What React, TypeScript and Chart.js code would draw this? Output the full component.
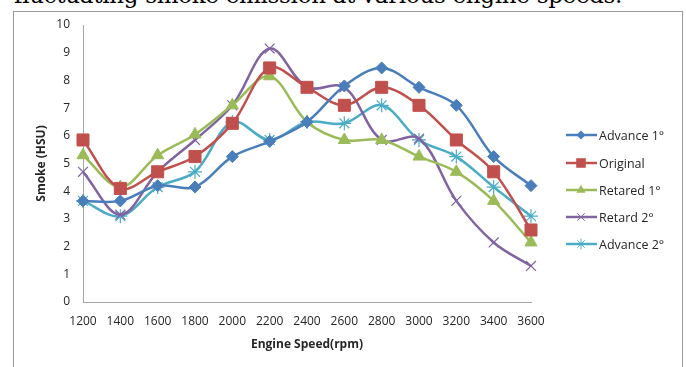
import React, { useEffect, useRef } from "react";
import { Chart, registerables } from "chart.js";

Chart.register(...registerables);

const speeds = ["1200", "1400", "1600", "1800", "2000", "2200", "2400", "2600", "2800", "3000", "3200", "3400", "3600"];
const advance1 = [3.65, 3.65, 4.2, 4.15, 5.25, 5.8, 6.5, 7.8, 8.45, 7.75, 7.1, 5.25, 4.2];
const original = [5.85, 4.1, 4.7, 5.25, 6.45, 8.45, 7.75, 7.1, 7.75, 7.1, 5.85, 4.7, 2.6];
const retared1 = [5.3, 4.15, 5.3, 6.05, 7.1, 8.15, 6.5, 5.85, 5.85, 5.25, 4.7, 3.65, 2.15];
const retard2 = [4.7, 3.15, 4.7, 5.85, 7.1, 9.15, 7.75, 7.75, 5.85, 5.9, 3.65, 2.15, 1.3];
const advance2 = [3.65, 3.1, 4.15, 4.7, 6.5, 5.85, 6.5, 6.45, 7.1, 5.85, 5.25, 4.15, 3.1];
const yTicks = [0, 1, 2, 3, 4, 5, 6, 7, 8, 9, 10];

const seriesDefs = [
  { label: "Advance 1°", data: advance1, color: "#4a7ebb", style: "rectRot", radius: 6, fill: true },
  { label: "Original", data: original, color: "#c0504d", style: "rect", radius: 8.5, fill: true },
  { label: "Retared 1°", data: retared1, color: "#9bbb59", style: "triangle", radius: 7, fill: true },
  { label: "Retard 2°", data: retard2, color: "#8064a2", style: "crossRot", radius: 7, fill: false },
  { label: "Advance 2°", data: advance2, color: "#4bacc6", style: "star", radius: 7, fill: false },
];

const FONT = "'Open Sans', 'Liberation Sans', sans-serif";

function drawMarker(ctx: CanvasRenderingContext2D, style: string, r: number, x: number, y: number, color: string) {
  ctx.save();
  ctx.fillStyle = color;
  ctx.strokeStyle = color;
  ctx.lineWidth = 1;
  ctx.beginPath();
  if (style === "rectRot") {
    ctx.moveTo(x, y - r); ctx.lineTo(x + r, y); ctx.lineTo(x, y + r); ctx.lineTo(x - r, y); ctx.closePath();
    ctx.fill();
  } else if (style === "rect") {
    const s = r * 0.75;
    ctx.rect(x - s, y - s, 2 * s, 2 * s);
    ctx.fill();
  } else if (style === "triangle") {
    ctx.moveTo(x, y - r); ctx.lineTo(x + r * 0.87, y + r * 0.5); ctx.lineTo(x - r * 0.87, y + r * 0.5); ctx.closePath();
    ctx.fill();
  } else if (style === "crossRot") {
    const s = r * 0.7;
    ctx.moveTo(x - s, y - s); ctx.lineTo(x + s, y + s); ctx.moveTo(x + s, y - s); ctx.lineTo(x - s, y + s);
    ctx.stroke();
  } else {
    const s = r * 0.7;
    ctx.moveTo(x - s, y - s); ctx.lineTo(x + s, y + s); ctx.moveTo(x + s, y - s); ctx.lineTo(x - s, y + s);
    ctx.moveTo(x, y - r); ctx.lineTo(x, y + r);
    ctx.stroke();
  }
  ctx.restore();
}

const legendPlugin = {
  id: "customLegend",
  afterDraw(chart: any) {
    const ctx = chart.ctx;
    const rows = [135, 163, 190, 217, 244];
    ctx.save();
    seriesDefs.forEach((s, i) => {
      const y = rows[i];
      ctx.strokeStyle = s.color;
      ctx.lineWidth = 2.5;
      ctx.beginPath();
      ctx.moveTo(566, y);
      ctx.lineTo(597, y);
      ctx.stroke();
      drawMarker(ctx, s.style, s.radius * 0.75, 581, y, s.color);
      ctx.fillStyle = "#262626";
      ctx.font = "12.5px " + FONT;
      ctx.textBaseline = "middle";
      ctx.textAlign = "left";
      ctx.fillText(s.label, 599, y + 1);
    });
    ctx.restore();
  },
};

export default function App() {
  const ref = useRef<HTMLCanvasElement>(null);
  useEffect(() => {
    if (!ref.current) return;
    const chart = new Chart(ref.current, {
      type: "line",
      data: {
        labels: speeds,
        datasets: seriesDefs.map((s) => ({
          label: s.label,
          data: s.data,
          borderColor: s.color,
          backgroundColor: s.color,
          borderWidth: 2.5,
          tension: 0.35,
          pointStyle: s.style as any,
          pointRadius: s.radius,
          pointBackgroundColor: s.color,
          pointBorderColor: s.color,
          pointBorderWidth: s.fill ? 1 : 1.2,
        })),
      },
      options: {
        animation: false,
        responsive: false,
        maintainAspectRatio: false,
        layout: { padding: { left: 30, right: 155, top: 25, bottom: 11 } },
        plugins: { legend: { display: false }, tooltip: { enabled: false } },
        scales: {
          x: {
            offset: false,
            grid: { display: false, drawTicks: false },
            border: { display: true, color: "#a6a6a6", width: 1 },
            ticks: { color: "#262626", font: { family: FONT, size: 12 }, padding: 12, maxRotation: 0, autoSkip: false },
            title: { display: true, text: "Engine Speed(rpm)", color: "#262626", font: { family: FONT, size: 12, weight: "bold" }, padding: { top: 2 } },
            afterFit: (scale: any) => { scale.height = 54; },
          },
          y: {
            min: 0,
            max: 10,
            afterBuildTicks: (scale: any) => { scale.ticks = yTicks.map((v) => ({ value: v })); },
            grid: { display: false, drawTicks: false },
            border: { display: true, color: "#a6a6a6", width: 1 },
            ticks: { color: "#262626", font: { family: FONT, size: 12 }, padding: 13 },
            title: { display: true, text: "Smoke (HSU)", color: "#262626", font: { family: FONT, size: 12, weight: "bold" }, padding: { bottom: 6 } },
            afterFit: (scale: any) => { scale.width = 53; },
          },
        },
      },
      plugins: [legendPlugin],
    });
    return () => chart.destroy();
  }, []);

  return (
    <div style={{ position: "fixed", left: 0, top: 0, width: 686, height: 367, overflow: "hidden", background: "#fff" }}>
      <div style={{ position: "absolute", left: 14, top: -18, fontFamily: "'DejaVu Serif', serif", fontSize: 23, whiteSpace: "nowrap", color: "#000", letterSpacing: "-0.3px" }}>
        fluctuating smoke emission at various engine speeds.
      </div>
      <div style={{ position: "absolute", left: 13, top: 11, width: 670, height: 380, border: "1px solid #9a9a9a", boxSizing: "border-box" }} />
      <canvas ref={ref} width={686} height={367} style={{ position: "absolute", left: 0, top: 0, width: 686, height: 367 }} />
    </div>
  );
}
